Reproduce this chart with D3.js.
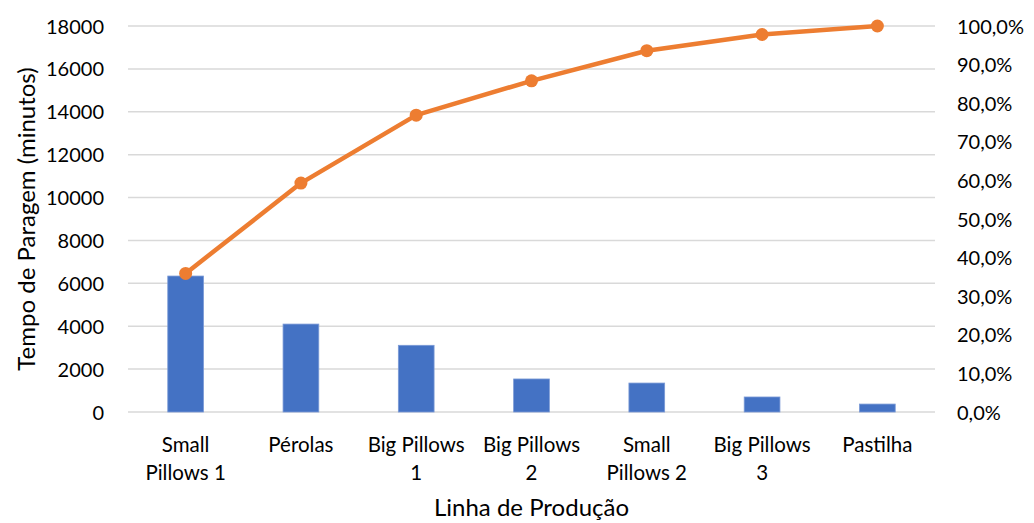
<!DOCTYPE html>
<html>
<head>
<meta charset="utf-8">
<script src="https://cdn.jsdelivr.net/npm/d3@7"></script>
<style>
  html, body { margin: 0; padding: 0; background: #fff; }
  svg { display: block; }
  text { font-family: Lato, "Open Sans", sans-serif; fill: #000; }
</style>
</head>
<body>
<svg id="chart" width="1034" height="523"></svg>
<script>
// Downtime per production line (minutes) and cumulative share (%)
const categories = [
  ["Small", "Pillows 1"],
  ["Pérolas"],
  ["Big Pillows", "1"],
  ["Big Pillows", "2"],
  ["Small", "Pillows 2"],
  ["Big Pillows", "3"],
  ["Pastilha"]
];
const downtime = [6340, 4100, 3110, 1540, 1350, 700, 370];
const cumulativePct = [35.9, 59.3, 76.9, 85.8, 93.6, 97.8, 100];
const leftTicks = [0, 2000, 4000, 6000, 8000, 10000, 12000, 14000, 16000, 18000];
const rightTicks = [0, 10, 20, 30, 40, 50, 60, 70, 80, 90, 100];

const svg = d3.select("#chart");
const margin = { left: 128, right: 99, top: 26, bottom: 111 };
const W = 1034, H = 523;
const x0 = margin.left, x1 = W - margin.right;
const yTop = margin.top, yBot = H - margin.bottom;

const keys = categories.map((c, i) => i);
const x = d3.scaleBand().domain(keys).range([x0, x1]).paddingInner(0.69).paddingOuter(0.345);
const xc = d3.scaleBand().domain(keys).range([x0, x1]);
const y = d3.scaleLinear().domain([0, 18000]).range([yBot, yTop]);
const yPct = d3.scaleLinear().domain([0, 100]).range([yBot, yTop]);

// Gridlines
svg.append("g")
  .selectAll("line")
  .data(leftTicks)
  .join("line")
  .attr("x1", x0).attr("x2", x1)
  .attr("y1", d => y(d)).attr("y2", d => y(d))
  .attr("stroke", "#d9d9d9").attr("stroke-width", 1.5);

// Left axis
const fmtLeft = d3.format("d");
const leftAxis = d3.axisLeft(y).tickValues(leftTicks).tickFormat(fmtLeft).tickSize(0).tickPadding(0);
const gL = svg.append("g").attr("transform", `translate(${x0 - 24},0)`).call(leftAxis);
gL.select(".domain").remove();
gL.selectAll("text").attr("font-size", 20).attr("dy", "0.35em").style("font-family", "Lato, sans-serif");

// Right axis
const fmtPct = d => d3.format(".1f")(d).replace(".", ",") + "%";
const rightAxis = d3.axisRight(yPct).tickValues(rightTicks).tickFormat(fmtPct).tickSize(0).tickPadding(0);
const gR = svg.append("g").attr("transform", `translate(${x1 + 22},0)`).call(rightAxis);
gR.select(".domain").remove();
gR.selectAll("text").attr("font-size", 20).attr("dy", "0.35em").style("font-family", "Lato, sans-serif");

// Bars
svg.append("g")
  .selectAll("rect")
  .data(downtime)
  .join("rect")
  .attr("x", (d, i) => x(i))
  .attr("width", x.bandwidth())
  .attr("y", d => y(d))
  .attr("height", d => y(0) - y(d))
  .attr("fill", "#4472C4")
  .attr("stroke", "#7b9ad6")
  .attr("stroke-width", 0.8);

// Cumulative line
const cx = i => xc(i) + xc.bandwidth() / 2;
const line = d3.line().x((d, i) => cx(i)).y(d => yPct(d));
svg.append("path")
  .datum(cumulativePct)
  .attr("d", line)
  .attr("fill", "none")
  .attr("stroke", "#ED7D31")
  .attr("stroke-width", 4.5)
  .attr("stroke-linejoin", "round");
svg.append("g")
  .selectAll("circle")
  .data(cumulativePct)
  .join("circle")
  .attr("cx", (d, i) => cx(i))
  .attr("cy", d => yPct(d))
  .attr("r", 6.5)
  .attr("fill", "#ED7D31");

// Category labels
const gX = svg.append("g");
categories.forEach((lines, i) => {
  const t = gX.append("text")
    .attr("x", cx(i))
    .attr("y", 452)
    .attr("text-anchor", "middle")
    .attr("font-size", 20.5);
  lines.forEach((s, j) => {
    t.append("tspan").attr("x", cx(i)).attr("dy", j === 0 ? 0 : 28).text(s);
  });
});

// Axis titles
svg.append("text")
  .attr("x", (x0 + x1) / 2)
  .attr("y", 516)
  .attr("text-anchor", "middle")
  .attr("font-size", 24)
  .text("Linha de Produção");

svg.append("text")
  .attr("transform", `translate(35,${(yTop + yBot) / 2}) rotate(-90)`)
  .attr("text-anchor", "middle")
  .attr("font-size", 24)
  .text("Tempo de Paragem (minutos)");
</script>
</body>
</html>
